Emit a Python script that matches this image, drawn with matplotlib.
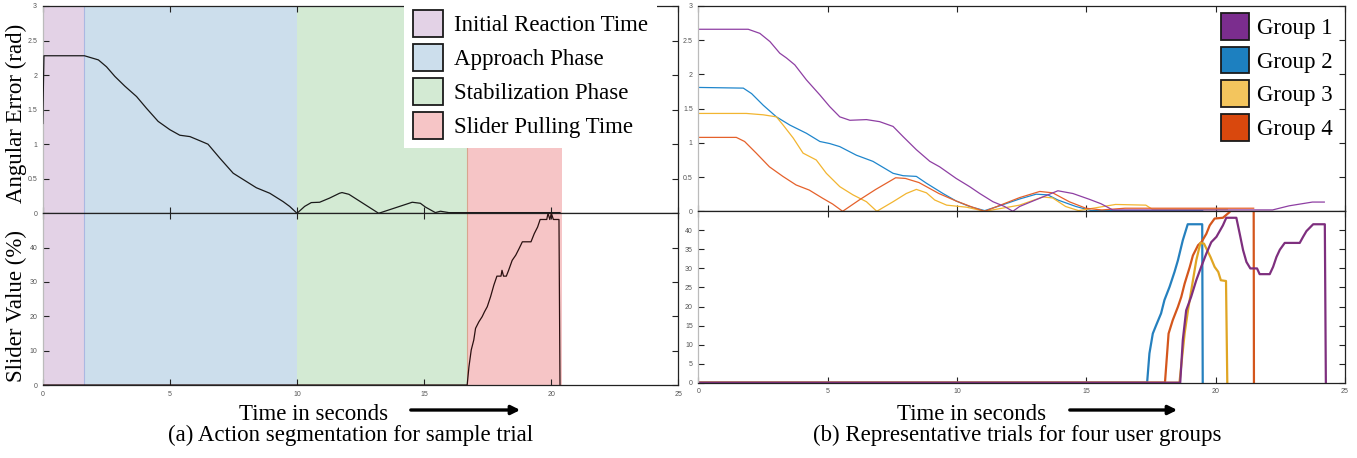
import matplotlib
matplotlib.use("Agg")
import matplotlib.pyplot as plt
import matplotlib.patches as mpatches

W, H = 1357, 458

# ---------------- data: left panel (sample trial) ----------------
t_ang = [0, 0.05, 1.64, 2.19, 2.51, 2.84, 3.23, 3.69, 4.08, 4.54, 5.0, 5.39, 5.79, 6.18, 6.5,
         6.96, 7.49, 8.01, 8.40, 8.93, 9.45, 9.71, 10.0, 10.3, 10.56, 10.89, 11.28, 11.67, 11.77,
         12.04, 13.21, 14.53, 14.85, 15.05, 15.44, 15.64, 15.97, 20.34]
ang = [1.30, 2.28, 2.28, 2.22, 2.12, 1.98, 1.84, 1.69, 1.52, 1.33, 1.21, 1.13, 1.11, 1.05, 1.0,
       0.80, 0.58, 0.46, 0.37, 0.29, 0.17, 0.10, 0.0, 0.10, 0.155, 0.16, 0.22, 0.29, 0.30,
       0.275, 0.0, 0.16, 0.145, 0.09, 0.01, 0.03, 0.01, 0.01]

t_sl = [0, 16.69, 16.76, 16.85, 16.95, 17.02, 17.15, 17.28, 17.37, 17.48, 17.61, 17.74, 17.86,
        18.02, 18.06, 18.12, 18.23, 18.32, 18.46, 18.6, 18.73, 18.86, 19.2, 19.33, 19.46, 19.56,
        19.82, 19.87, 19.94, 20.0, 20.08, 20.3, 20.34]
sl = [0, 0, 5.3, 10.2, 13.1, 16.5, 18.4, 19.9, 21.3, 22.8, 25.7, 29.1, 31.7,
      31.7, 33.4, 31.7, 31.7, 33.4, 36.3, 37.8, 39.7, 41.7, 41.7, 44.1, 46.0, 48.2,
      48.2, 50, 48.2, 50, 48.2, 48.2, 0]

phase_names = ["Initial Reaction Time", "Approach Phase", "Stabilization Phase", "Slider Pulling Time"]
phase_start = [0, 1.64, 10.0, 16.67]
phase_end = [1.64, 10.0, 16.67, 20.43]
phase_colors = ["#e3d2e6", "#ccdeec", "#d3ead3", "#f6c5c6"]

# ---------------- data: right panel (four groups) ----------------
group_names = ["Group 1", "Group 2", "Group 3", "Group 4"]

g1_t = [0, 1.93, 2.38, 2.77, 3.15, 3.41, 3.73, 4.18, 4.70, 5.08, 5.47, 5.86, 6.5, 7.01, 7.53, 7.92,
        8.43, 8.95, 9.33, 9.97, 10.49, 10.88, 11.39, 11.84, 12.16, 12.42, 13.9, 14.48, 15.12,
        15.57, 16.02, 22.2, 22.84, 23.74, 24.2]
g1_err = [2.66, 2.66, 2.60, 2.48, 2.31, 2.24, 2.14, 1.92, 1.70, 1.53, 1.38, 1.33, 1.34, 1.31, 1.24,
          1.09, 0.90, 0.73, 0.65, 0.48, 0.36, 0.26, 0.14, 0.07, 0.0, 0.07, 0.30, 0.26, 0.175,
          0.11, 0.02, 0.02, 0.08, 0.135, 0.135]
g2_t = [0, 1.74, 2.06, 2.51, 3.02, 3.54, 4.18, 4.70, 5.08, 5.47, 6.11, 6.75, 7.53, 7.92, 8.43,
        8.82, 9.46, 9.97, 10.49, 11.07, 11.65, 12.42, 13.06, 13.51, 13.9, 14.6, 15.2, 19.5]
g2_err = [1.81, 1.80, 1.72, 1.55, 1.38, 1.26, 1.14, 1.02, 0.99, 0.945, 0.82, 0.73, 0.555, 0.52,
          0.51, 0.41, 0.26, 0.15, 0.07, 0.01, 0.08, 0.18, 0.25, 0.24, 0.165, 0.07, 0.01, 0.01]
g3_t = [0, 1.86, 2.51, 3.02, 3.28, 3.67, 4.05, 4.56, 4.95, 5.47, 5.98, 6.5, 6.9, 7.53, 8.04, 8.43,
        8.82, 9.14, 9.6, 10.37, 11.07, 12.42, 13.32, 13.7, 14.2, 14.7, 15.5, 16.13, 17.3, 17.55, 20.45]
g3_err = [1.43, 1.43, 1.41, 1.38, 1.26, 1.07, 0.85, 0.75, 0.555, 0.36, 0.24, 0.14, 0.0, 0.14, 0.26,
          0.32, 0.27, 0.165, 0.09, 0.06, 0.0, 0.09, 0.21, 0.195, 0.07, 0.01, 0.06, 0.10, 0.09,
          0.03, 0.03]
g4_t = [0, 1.47, 1.79, 2.24, 2.75, 3.27, 3.78, 4.29, 4.81, 5.19, 5.58, 6.22, 6.86, 7.63, 8.01,
        8.53, 9.3, 9.97, 10.6, 11.07, 12.42, 13.2, 13.7, 14.34, 14.98, 15.6, 16.5, 21.47]
g4_err = [1.08, 1.08, 1.02, 0.85, 0.65, 0.51, 0.385, 0.31, 0.19, 0.107, 0.0, 0.165, 0.32, 0.49,
          0.48, 0.42, 0.26, 0.15, 0.06, 0.0, 0.2, 0.29, 0.27, 0.14, 0.045, 0.02, 0.045, 0.045]

g1_st = [0, 18.63, 18.73, 18.86, 19.05, 19.25, 19.44, 19.64, 19.83, 20.03, 20.28, 20.41, 20.8,
         20.93, 21.06, 21.19, 21.34, 21.6, 21.7, 22.09, 22.22, 22.35, 22.48, 22.67, 23.25, 23.38,
         23.51, 23.77, 24.22, 24.26]
g1_sl = [0, 0, 11.2, 19.0, 22.5, 26.9, 30.4, 33.9, 36.9, 38.3, 41.3, 43.3, 43.3, 39.1, 34.8, 31.7,
         30.0, 30.0, 28.5, 28.5, 30.4, 33.0, 34.9, 36.7, 36.7, 38.3, 39.8, 41.6, 41.6, 0]
g2_st = [0, 17.35, 17.44, 17.57, 17.7, 17.89, 18.02, 18.22, 18.41, 18.54, 18.73, 18.92, 19.48, 19.5]
g2_sl = [0, 0, 7.7, 12.9, 15.1, 18.2, 21.7, 25.2, 29.1, 32.1, 37.4, 41.6, 41.6, 0]
g3_st = [0, 18.6, 18.8, 18.93, 19.1, 19.25, 19.41, 19.55, 19.8, 19.96, 20.1, 20.2, 20.4, 20.45]
g3_sl = [0, 0, 12.9, 19.0, 26.0, 32.1, 36.7, 36.5, 33.0, 30.4, 29.1, 26.9, 26.7, 0]
g4_st = [0, 18.04, 18.18, 18.34, 18.54, 18.67, 18.8, 19.0, 19.12, 19.32, 19.45, 19.64, 19.77,
         19.96, 20.28, 20.54, 20.6, 21.47, 21.48]
g4_sl = [0, 0, 12.9, 16.4, 19.9, 22.5, 26.0, 30.4, 33.4, 36.1, 36.9, 39.1, 41.3, 43.1, 43.3,
         44.8, 46, 46, 0]

x_ticks = [0, 5, 10, 15, 20, 25]
err_ticks = [0, 0.5, 1, 1.5, 2, 2.5, 3]
left_sl_ticks = [0, 10, 20, 30, 40]
right_sl_ticks = [0, 5, 10, 15, 20, 25, 30, 35, 40]

# ---------------- styling ----------------
SERIF = "Liberation Serif"
SANS = "Liberation Sans"
BIG = 16.5
TICKCOL = "#555555"
legend_face = ["#7b2d8e", "#1d80c0", "#f3c55d", "#d9480d"]
err_colors = ["#8e3fa3", "#1f86cc", "#f2b530", "#e5612b"]
sl_colors = ["#7e2f7e", "#2580be", "#e0a523", "#d4561c"]

fig = plt.figure(figsize=(W / 100, H / 100), dpi=100)


def fbox(x0, y0, x1, y1):
    return [x0 / W, 1 - y1 / H, (x1 - x0) / W, (y1 - y0) / H]


axLU = fig.add_axes(fbox(42.7, 6, 678.5, 213.3))
axLL = fig.add_axes(fbox(42.7, 213.3, 678.5, 385))
axRU = fig.add_axes(fbox(698.3, 6, 1345, 211.3))
axRL = fig.add_axes(fbox(698.3, 211.3, 1345, 382.7))


def style(ax, showx):
    ax.tick_params(direction="in", length=4.6, width=0.8, top=True, right=True,
                   labelsize=5, labelcolor=TICKCOL, color="#222222")
    ax.tick_params(axis="y", pad=4)
    ax.tick_params(axis="x", pad=4, labelbottom=showx)
    for lab in ax.get_xticklabels() + ax.get_yticklabels():
        lab.set_fontfamily(SANS)
    for s in ("top", "right", "bottom"):
        ax.spines[s].set_color("#222222")
        ax.spines[s].set_linewidth(0.9)
    ax.spines["left"].set_color("#bbbbbb")
    ax.spines["left"].set_linewidth(0.9)
    ax.set_xlim(0, 25)
    ax.set_xticks(x_ticks)


# left panel
for ax in (axLU, axLL):
    for s, e, c in zip(phase_start, phase_end, phase_colors):
        ax.axvspan(s, e, color=c, lw=0, zorder=0)
    ax.axvline(1.64, color="#aab8e2", lw=0.8, zorder=1)
    ax.axvline(16.67, color="#d9a48e", lw=0.8, zorder=1)

axLU.plot(t_ang, ang, color="#1a1a1a", lw=0.9, zorder=3)
axLU.set_ylim(0, 3)
axLU.set_yticks(err_ticks)
axLU.set_yticklabels(["0", "0.5", "1", "1.5", "2", "2.5", "3"])
style(axLU, False)

axLL.plot(t_sl, sl, color="#2a1010", lw=0.9, zorder=3)
axLL.set_ylim(0, 50)
axLL.set_yticks(left_sl_ticks)
style(axLL, True)

# right panel
for t, v, c in [(g2_t, g2_err, err_colors[1]), (g3_t, g3_err, err_colors[2]),
                (g4_t, g4_err, err_colors[3]), (g1_t, g1_err, err_colors[0])]:
    axRU.plot(t, v, color=c, lw=0.9)
axRU.set_ylim(0, 3)
axRU.set_yticks(err_ticks)
axRU.set_yticklabels(["0", "0.5", "1", "1.5", "2", "2.5", "3"])
style(axRU, False)

for t, v, c in [(g2_st, g2_sl, sl_colors[1]), (g4_st, g4_sl, sl_colors[3]),
                (g3_st, g3_sl, sl_colors[2]), (g1_st, g1_sl, sl_colors[0])]:
    axRL.plot(t, v, color=c, lw=1.6)
axRL.set_ylim(0, 45)
axRL.set_yticks(right_sl_ticks)
style(axRL, True)

# legends
phase_handles = [mpatches.Patch(facecolor=c, edgecolor="#1a1a1a", linewidth=1.3) for c in phase_colors]
lg1 = fig.legend(phase_handles, phase_names, loc="upper left",
                 bbox_to_anchor=(404 / W, 1 - 1 / H), bbox_transform=fig.transFigure,
                 prop={"family": SERIF, "size": BIG}, frameon=True, facecolor="white",
                 edgecolor="none", framealpha=1, fancybox=False, handlelength=1.3,
                 handleheight=1.45, labelspacing=0.3, handletextpad=0.5,
                 borderpad=0.38, borderaxespad=0)
group_handles = [mpatches.Patch(facecolor=c, edgecolor="#1a1a1a", linewidth=1.3) for c in legend_face]
lg2 = fig.legend(group_handles, group_names, loc="upper left",
                 bbox_to_anchor=(1213.7 / W, 1 - 6 / H), bbox_transform=fig.transFigure,
                 prop={"family": SERIF, "size": BIG}, frameon=False, handlelength=1.23,
                 handleheight=1.42, labelspacing=0.3, handletextpad=0.35,
                 borderpad=0.3, borderaxespad=0)

# axis labels and captions
fig.text(16.5 / W, 1 - 113 / H, "Angular Error (rad)", rotation=90, ha="center", va="center",
         family=SERIF, size=BIG)
fig.text(16.5 / W, 1 - 306 / H, "Slider Value (%)", rotation=90, ha="center", va="center",
         family=SERIF, size=BIG)

for cx, ax0, ax1, cap, ccx in [(314, 408, 523, "(a) Action segmentation for sample trial", 351),
                               (971.7, 1067, 1180, "(b) Representative trials for four user groups", 1017)]:
    fig.text(cx / W, 1 - 420 / H, "Time in seconds", ha="center", va="baseline",
             family=SERIF, size=BIG)
    fig.text(ccx / W, 1 - 441.5 / H, cap, ha="center", va="baseline", family=SERIF, size=BIG)
    fig.add_artist(mpatches.FancyArrowPatch((ax0 / W, 1 - 410 / H), (ax1 / W, 1 - 410 / H),
                                            transform=fig.transFigure, arrowstyle="-|>",
                                            mutation_scale=13, lw=2.4, color="black"))

fig.savefig("out.png", dpi=100)
